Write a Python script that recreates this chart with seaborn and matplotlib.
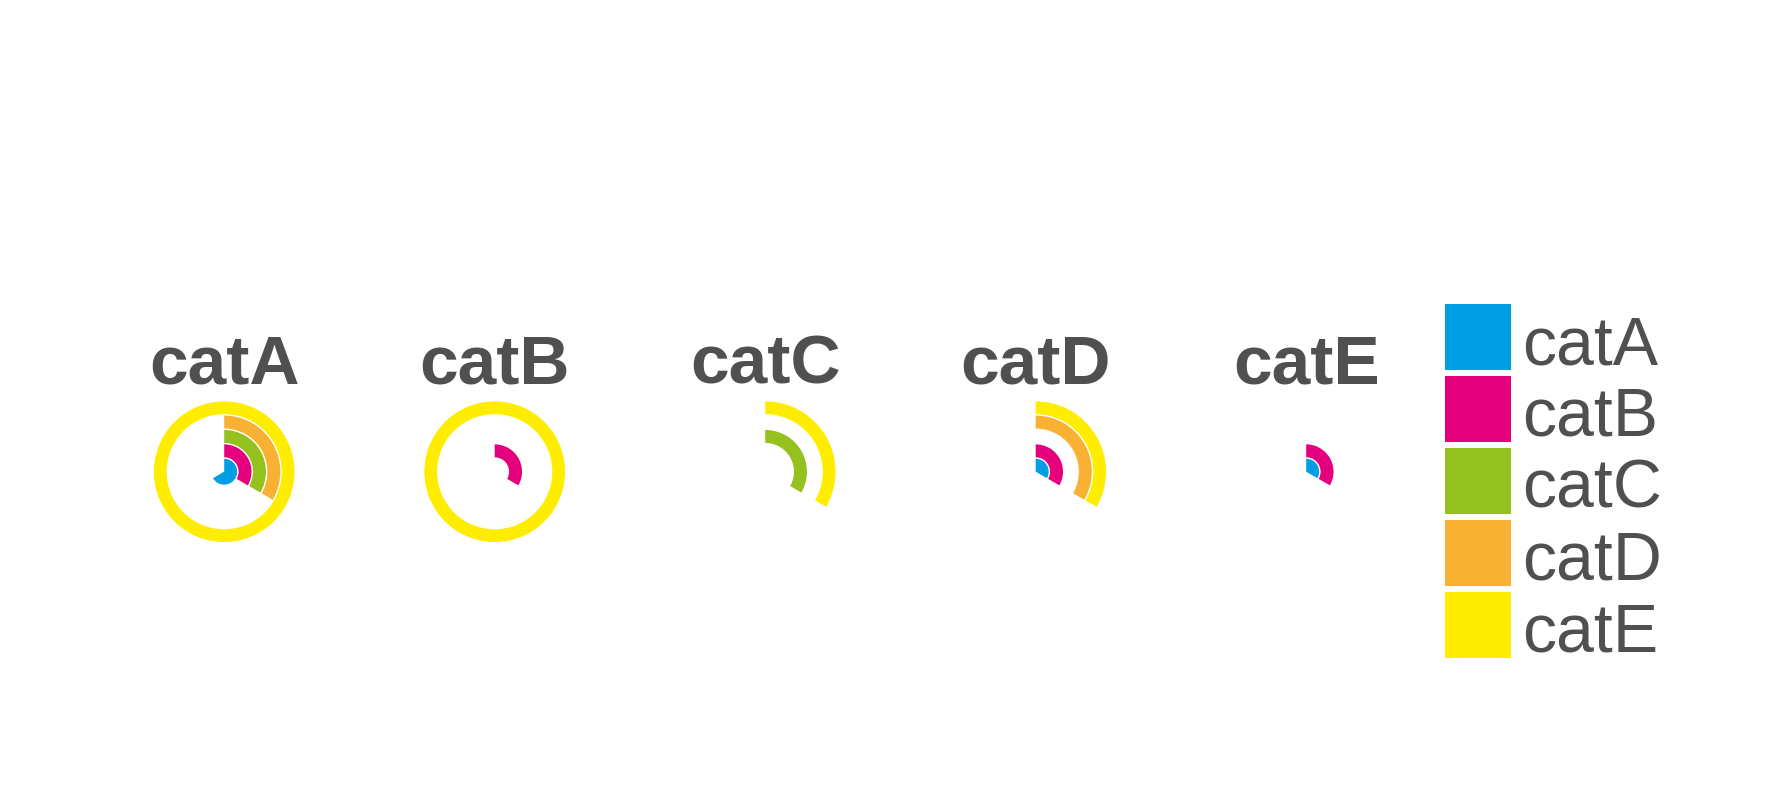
import numpy as np
import pandas as pd
import matplotlib
matplotlib.use("Agg")
import matplotlib.pyplot as plt
import seaborn as sns
from matplotlib.patches import Rectangle

sns.set_theme(style="white")
plt.rcParams['font.family'] = ['Liberation Sans', 'DejaVu Sans']

cats = ["catA", "catB", "catC", "catD", "catE"]
colors = ["#009FE3", "#E5007E", "#95C11F", "#F8B133", "#FFED00"]
palette = dict(zip(cats, colors))
text_col = "#505050"

# ring values per panel (None = ring not drawn)
panel_A = [2, 1, 1, 1, 3]
panel_B = [None, 1, None, None, 3]
panel_C = [None, None, 1, None, 1]
panel_D = [1, 1, None, 1, 1]
panel_E = [1, 1, None, None, None]

rows = []
for panel, vals in zip(cats, [panel_A, panel_B, panel_C, panel_D, panel_E]):
    for c, v in zip(cats, vals):
        if v is not None:
            rows.append({"panel": panel, "cat": c, "value": v})
df = pd.DataFrame(rows)
vmax = df["value"].max()


def rings(data, color=None, **kws):
    ax = plt.gca()
    for _, row in data.iterrows():
        i = cats.index(row["cat"])
        ax.bar(0, 0.9, width=row["value"] / vmax * 2 * np.pi, bottom=i + 0.55,
               align="edge", color=palette[row["cat"]], linewidth=0)
    ax.set_theta_zero_location("N")
    ax.set_theta_direction(-1)
    ax.set_ylim(0.55, 5.45)
    ax.set_axis_off()


g = sns.FacetGrid(df, col="panel", col_order=cats, sharex=False, sharey=False,
                  subplot_kws=dict(projection="polar"), despine=False)
g.map_dataframe(rings)
g.set_titles("{col_name}", size=50, fontweight="bold", color=text_col,
             pad=13, y=1.0)

fig = g.figure
fig.set_size_inches(17.78, 8.09)
W, H = 1778, 809

# place the panels
R = 70.5
for k, ax in enumerate(g.axes.flat):
    cx = 224.2 + k * 270.5
    cy = 471.7
    ax.set_position([(cx - R) / W, (H - cy - R) / H, 2 * R / W, 2 * R / H])

# legend
for k, (c, col) in enumerate(zip(cats, colors)):
    top = 304 + k * 72
    fig.add_artist(Rectangle((1445 / W, (H - top - 66) / H), 66 / W, 66 / H,
                             transform=fig.transFigure, color=col, lw=0))
    fig.text(1522 / W, (H - top - 60) / H, c, fontsize=49, color=text_col,
             va="baseline", ha="left")

fig.savefig("out.png", dpi=100)
